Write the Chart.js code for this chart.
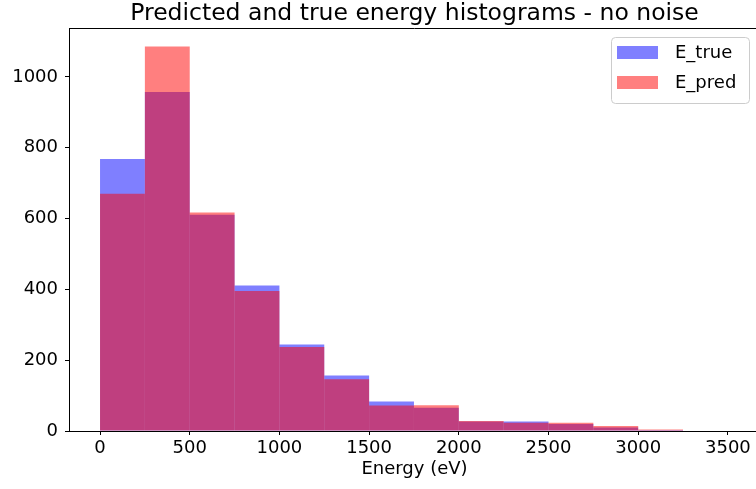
<!DOCTYPE html>
<html>
<head>
<meta charset="utf-8">
<script src="https://cdn.jsdelivr.net/npm/chart.js@4"></script>
<style>
  html, body { margin: 0; padding: 0; background: #fff; overflow: hidden; width: 756px; height: 489px; }
  #chart { display: block; }
</style>
</head>
<body>
<canvas id="chart" width="760" height="489"></canvas>
<script>
// histogram bins (250 eV wide), bin centres
const binCenters = [125, 375, 625, 875, 1125, 1375, 1625, 1875, 2125, 2375, 2625, 2875, 3125];
const trueCounts = [768, 957, 611, 411, 244, 157, 83, 66, 27, 27, 20, 10, 3];
const predCounts = [670, 1086, 617, 395, 237, 146, 72, 73, 28, 23, 23, 14, 4];
const xTicks = [0, 500, 1000, 1500, 2000, 2500, 3000, 3500];
const yTicks = [0, 200, 400, 600, 800, 1000];

const titleText = 'Predicted and true energy histograms - no noise';
const FONT = "'DejaVu Sans', sans-serif";

function toPoints(values) {
    return binCenters.map((c, i) => ({ x: c, y: values[i] }));
}

// title, top spine and legend drawn on top of the chart
const extras = {
    id: 'extras',
    afterDraw(chart) {
        const ctx = chart.ctx;
        const area = chart.chartArea;
        ctx.save();

        // top spine
        ctx.strokeStyle = '#000';
        ctx.lineWidth = 1;
        ctx.beginPath();
        ctx.moveTo(area.left, area.top + 0.5);
        ctx.lineTo(area.right, area.top + 0.5);
        ctx.stroke();

        // title
        ctx.fillStyle = '#000';
        ctx.font = '23.5px ' + FONT;
        ctx.textAlign = 'center';
        ctx.textBaseline = 'middle';
        ctx.fillText(titleText, (area.left + area.right) / 2, 14);

        // legend
        const bx = 611, by = 37, bw = 138, bh = 66;
        ctx.fillStyle = 'rgba(255,255,255,0.8)';
        ctx.strokeStyle = '#cccccc';
        ctx.beginPath();
        ctx.roundRect(bx + 0.5, by + 0.5, bw, bh, 4);
        ctx.fill();
        ctx.stroke();

        const entries = [
            { label: 'E_true', color: 'rgba(0,0,255,0.5)', y: 46 },
            { label: 'E_pred', color: 'rgba(255,0,0,0.5)', y: 76 }
        ];
        ctx.font = '18px ' + FONT;
        ctx.textAlign = 'left';
        entries.forEach(e => {
            ctx.fillStyle = e.color;
            ctx.fillRect(617, e.y, 41, 13);
            ctx.fillStyle = '#000';
            ctx.fillText(e.label, 675, e.y + 7);
        });

        ctx.restore();
    }
};

const ctx = document.getElementById('chart').getContext('2d');
new Chart(ctx, {
    type: 'bar',
    data: {
        datasets: [
            {
                label: 'E_true',
                data: toPoints(trueCounts),
                backgroundColor: 'rgba(0,0,255,0.5)',
                borderWidth: 0,
                inflateAmount: 0,
                order: 2
            },
            {
                label: 'E_pred',
                data: toPoints(predCounts),
                backgroundColor: 'rgba(255,0,0,0.5)',
                borderWidth: 0,
                inflateAmount: 0,
                order: 1
            }
        ]
    },
    options: {
        responsive: false,
        animation: false,
        devicePixelRatio: 1,
        grouped: false,
        barPercentage: 1,
        categoryPercentage: 1,
        layout: { padding: { top: 28, left: 0, right: 0, bottom: 0 } },
        plugins: {
            legend: { display: false },
            title: { display: false },
            tooltip: { enabled: false }
        },
        scales: {
            x: {
                type: 'linear',
                offset: false,
                min: -173,
                max: 3679,
                afterFit: s => { s.height = 58; },
                afterBuildTicks: s => { s.ticks = xTicks.map(v => ({ value: v })); },
                border: { display: true, color: '#000', width: 1 },
                grid: { offset: false, drawOnChartArea: false, drawTicks: true, tickLength: 4, tickColor: '#000' },
                ticks: {
                    color: '#000',
                    font: { family: FONT, size: 18 },
                    padding: 3,
                    maxRotation: 0,
                    callback: v => String(v)
                },
                title: {
                    display: true,
                    text: 'Energy (eV)',
                    color: '#000',
                    font: { family: FONT, size: 18 },
                    padding: { top: 0, bottom: 9 }
                }
            },
            y: {
                min: 0,
                max: 1138,
                afterFit: s => { s.width = 69; },
                afterBuildTicks: s => { s.ticks = yTicks.map(v => ({ value: v })); },
                border: { display: true, color: '#000', width: 1 },
                grid: { drawOnChartArea: false, drawTicks: true, tickLength: 4, tickColor: '#000' },
                ticks: {
                    color: '#000',
                    font: { family: FONT, size: 18 },
                    padding: 7,
                    callback: v => String(v)
                }
            }
        }
    },
    plugins: [extras]
});
</script>
</body>
</html>
